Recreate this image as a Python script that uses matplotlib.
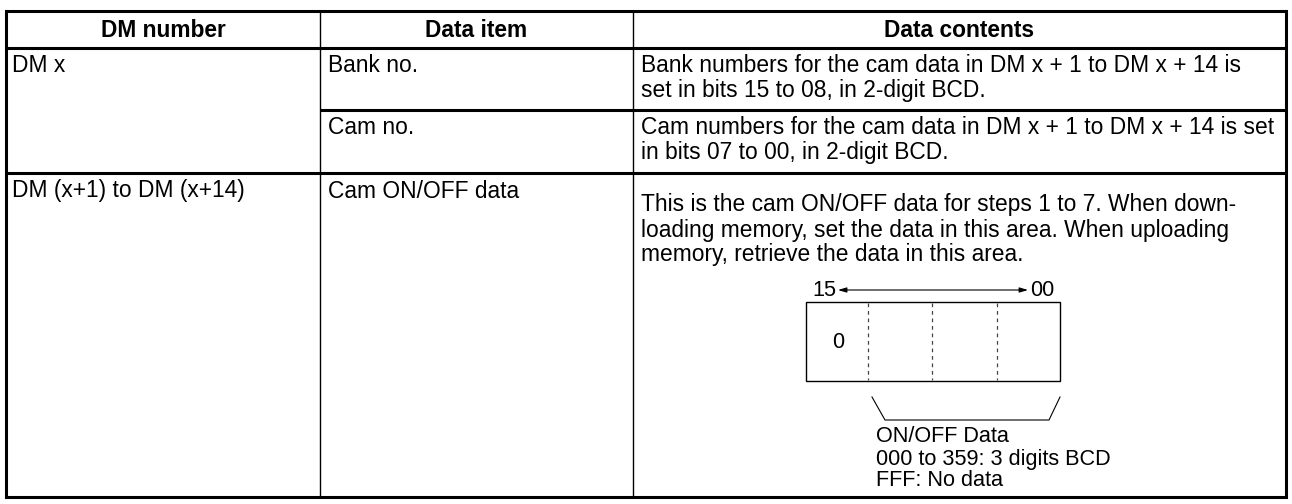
import matplotlib.pyplot as plt
from matplotlib.patches import Rectangle

plt.rcParams["font.family"] = ["Liberation Sans", "DejaVu Sans"]

headers = ["DM number", "Data item", "Data contents"]
dm_cells = ["DM x", "DM (x+1) to DM (x+14)"]
item_cells = ["Bank no.", "Cam no.", "Cam ON/OFF data"]
content_cells = [
    ["Bank numbers for the cam data in DM x + 1 to DM x + 14 is",
     "set in bits 15 to 08, in 2-digit BCD."],
    ["Cam numbers for the cam data in DM x + 1 to DM x + 14 is set",
     "in bits 07 to 00, in 2-digit BCD."],
    ["This is the cam ON/OFF data for steps 1 to 7. When down-",
     "loading memory, set the data in this area. When uploading",
     "memory, retrieve the data in this area."],
]
bit_labels = ["15", "00"]
box_digit = "0"
note_lines = ["ON/OFF Data", "000 to 359: 3 digits BCD", "FFF: No data"]

fs = 16.4
fs_small = 15.6
fig = plt.figure(figsize=(12.92, 5.04), dpi=100)
ax = fig.add_axes([0, 0, 1, 1])
ax.set_xlim(0, 1292)
ax.set_ylim(504, 0)
ax.axis("off")

# grid
xs = [6, 320, 633, 1286]
y_top, y_head, y_mid, y_r3, y_bot = 11, 48, 110, 173, 497
thick = 2.2
for y in [y_top, y_head, y_r3, y_bot]:
    ax.plot([xs[0], xs[3]], [y, y], color="black", lw=thick, solid_capstyle="butt")
ax.plot([xs[1], xs[3]], [y_mid, y_mid], color="black", lw=thick, solid_capstyle="butt")
for x in [xs[0], xs[3]]:
    ax.plot([x, x], [y_top, y_bot], color="black", lw=thick, solid_capstyle="projecting")
for x in [xs[1], xs[2]]:
    ax.plot([x, x], [y_top, y_bot], color="black", lw=1.0)

# header
for i, h in enumerate(headers):
    ax.text((xs[i] + xs[i + 1]) / 2, (y_top + y_head) / 2 + 1, h, ha="center",
            va="center", fontsize=fs, fontweight="bold")

# cells
ax.text(12, 66, dm_cells[0], va="center", fontsize=fs)
ax.text(12, 191, dm_cells[1], va="center", fontsize=fs)
for txt, y in zip(item_cells, [66, 128, 191]):
    ax.text(328, y, txt, va="center", fontsize=fs)
for lines, y0 in zip(content_cells, [66, 128, 205]):
    for k, line in enumerate(lines):
        ax.text(641, y0 + 25 * k, line, va="center", fontsize=fs)

# bit diagram
ax.text(836, 290, bit_labels[0], ha="right", va="center", fontsize=fs_small)
ax.text(1030, 290, bit_labels[1], ha="left", va="center", fontsize=fs_small)
ax.annotate("", xy=(838, 290), xytext=(1028, 290),
            arrowprops=dict(arrowstyle="<|-|>,head_length=0.5,head_width=0.15",
                            color="black", lw=0.8, shrinkA=0, shrinkB=0))
ax.add_patch(Rectangle((806, 302), 254, 79, fill=False, ec="black", lw=1.0))
for x in [868, 932, 997]:
    ax.plot([x, x], [303, 380], color="#444444", lw=0.9, ls=(0, (3, 3)))
ax.text(838, 342, box_digit, ha="center", va="center", fontsize=fs_small)
ax.plot([872, 885, 1049, 1060], [397, 420, 420, 397], color="black", lw=0.8)
for k, line in enumerate(note_lines):
    ax.text(876, 437 + 22 * k, line, va="center", fontsize=fs_small)

fig.savefig("out.png", dpi=100)
